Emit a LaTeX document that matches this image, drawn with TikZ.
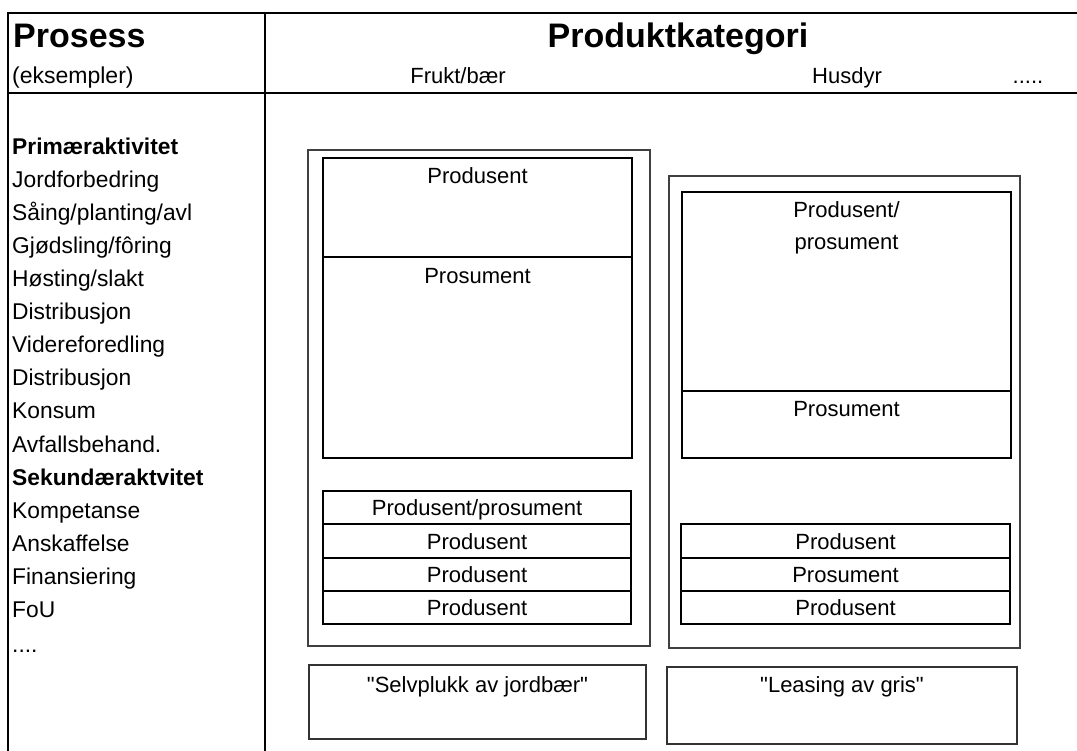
\documentclass[tikz,border=0pt]{standalone}
\usepackage{fontspec}
\setmainfont{Liberation Sans}
\newcommand{\nolig}{\addfontfeature{Ligatures=TeXOff}}
\begin{document}
\begin{tikzpicture}[x=1pt,y=-1pt,
  frame/.style={line width=2pt,black},
  grp/.style={draw=black!75,line width=1.1pt,inner sep=0pt,outer sep=0pt,anchor=north west},
  cell/.style={draw=black,line width=1.8pt,inner sep=0pt,outer sep=0pt,anchor=north west},
  ex/.style={draw=black!80,line width=1.3pt,inner sep=0pt,outer sep=0pt,anchor=north west},
  big/.style={font=\fontsize{34}{38}\selectfont\bfseries,inner sep=0pt},
  sub/.style={font=\fontsize{22}{24}\selectfont,inner sep=0pt},
  lst/.style={font=\fontsize{22.8}{26}\selectfont,inner sep=0pt,anchor=base west},
  txt/.style={font=\fontsize{22}{26}\selectfont\nolig,inner sep=0pt,anchor=base},
]
\useasboundingbox (0,0) rectangle (1077,751);
% table frame
\draw[frame] (1077,13) -- (8,13) -- (8,751);
\draw[frame] (265,13) -- (265,751);
\draw[frame] (8,93) -- (1077,93);
% headers
\node[big,anchor=base west] (prosess) at (13,48) {Prosess};
\node[sub,font=\fontsize{23}{26}\selectfont,anchor=base west] (eks) at (12,84) {(eksempler)};
\node[big,anchor=base] (pk) at (678,48) {Produktkategori};
\node[sub,anchor=base] (frukt) at (458,84) {Frukt/bær};
\node[sub,anchor=base] (husdyr) at (847,84) {Husdyr};
\node[sub,anchor=base] (dots) at (1028,84) {.....};
% process list
\foreach \t [count=\i from 0] in {{\bfseries Primæraktivitet},{Jordforbedring},{Såing/planting/avl},{Gjødsling/fôring},{Høsting/slakt},{Distribusjon},{Videreforedling},{Distribusjon},{Konsum},{Avfallsbehand.},{\bfseries Sekundæraktvitet},{Kompetanse},{Anskaffelse},{Finansiering},{FoU}}
  \node[lst] (p\i) at (12,{155+\i*33}) {\t};
\node[lst] (p15) at (12,652) {....};
% left group
\node[grp,minimum width=342pt,minimum height=496pt] (gl) at (308,150) {};
\node[cell,minimum width=309pt,minimum height=99pt] (l1) at (323,158) {};
\node[cell,minimum width=309pt,minimum height=201pt] (l2) at (323,257) {};
\node[txt] (l1t) at (477.5,184) {Produsent};
\node[txt] (l2t) at (477.5,284) {Prosument};
\node[cell,minimum width=308pt,minimum height=33pt] (ls1) at (323,491) {};
\node[cell,minimum width=308pt,minimum height=34pt] (ls2) at (323,524) {};
\node[cell,minimum width=308pt,minimum height=33pt] (ls3) at (323,558) {};
\node[cell,minimum width=308pt,minimum height=33pt] (ls4) at (323,591) {};
\node[txt] (ls1t) at ([yshift=-8pt]ls1.center) {Produsent/prosument};
\node[txt] (ls2t) at ([yshift=-8pt]ls2.center) {Produsent};
\node[txt] (ls3t) at ([yshift=-8pt]ls3.center) {Produsent};
\node[txt] (ls4t) at ([yshift=-8pt]ls4.center) {Produsent};
\node[ex,minimum width=337pt,minimum height=74pt] (exl) at (309,665) {};
\node[txt] (exlt) at (477.5,692) {"Selvplukk av jordbær"};
% right group
\node[grp,minimum width=351pt,minimum height=472pt] (gr) at (669,176) {};
\node[cell,minimum width=329pt,minimum height=199pt] (r1) at (682,192) {};
\node[cell,minimum width=329pt,minimum height=67pt] (r2) at (682,391) {};
\node[txt] (r1t) at (846.5,218) {Produsent/};
\node[txt] (r1u) at (846.5,250) {prosument};
\node[txt] (r2t) at (846.5,417) {Prosument};
\node[cell,minimum width=329pt,minimum height=34pt] (rs1) at (681,524) {};
\node[cell,minimum width=329pt,minimum height=33pt] (rs2) at (681,558) {};
\node[cell,minimum width=329pt,minimum height=33pt] (rs3) at (681,591) {};
\node[txt] (rs1t) at ([yshift=-8pt]rs1.center) {Produsent};
\node[txt] (rs2t) at ([yshift=-8pt]rs2.center) {Prosument};
\node[txt] (rs3t) at ([yshift=-8pt]rs3.center) {Produsent};
\node[ex,minimum width=350pt,minimum height=77pt] (exr) at (667,667) {};
\node[txt] (exrt) at (842,692) {"Leasing av gris"};
\end{tikzpicture}
\end{document}
